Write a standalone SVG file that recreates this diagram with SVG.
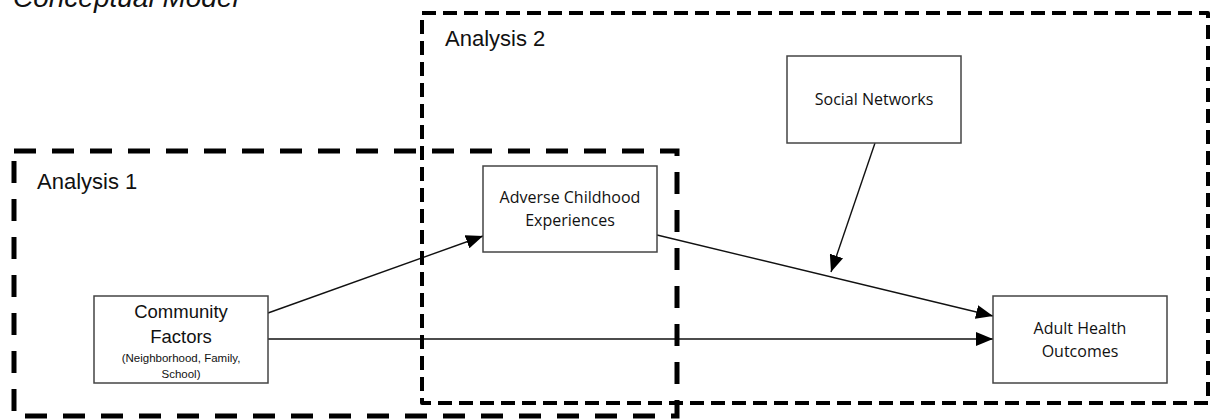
<svg xmlns="http://www.w3.org/2000/svg" width="1215" height="420" viewBox="0 0 1215 420">
<style>
.box{fill:#fff;stroke:#444;stroke-width:1.5}
.lbl{font-family:"Liberation Sans",Arial,sans-serif;fill:#111}
.cal{font-family:"Open Sans",sans-serif;fill:#111;text-anchor:middle}
.edge{stroke:#111;stroke-width:1.4;fill:none;marker-end:url(#ah)}
.f1{fill:none;stroke:#000;stroke-width:5;stroke-dasharray:22 16}
.f2{fill:none;stroke:#000;stroke-width:4;stroke-dasharray:14 7;stroke-linejoin:round}
</style>
<defs>
<marker id="ah" viewBox="0 0 10 10" refX="10" refY="5" markerWidth="17" markerHeight="14" markerUnits="userSpaceOnUse" orient="auto" preserveAspectRatio="none">
<path d="M0,0 L10,5 L0,10 z" fill="#000"/>
</marker>
</defs>
<rect width="1215" height="420" fill="#fff"/>
<text class="lbl" x="13" y="7" font-size="28" font-style="italic">Conceptual Model</text>

<g id="connectors">
<line class="edge" x1="268" y1="313" x2="483" y2="236"/>
<line class="edge" x1="268" y1="339" x2="993" y2="339"/>
<line class="edge" x1="657" y1="235" x2="993" y2="316"/>
<line class="edge" x1="875" y1="143" x2="831" y2="272"/>
</g>

<g id="community">
<rect class="box" x="94" y="296" width="174" height="87"/>
<text class="lbl" x="181" y="318" font-size="18.5" text-anchor="middle">Community</text>
<text class="lbl" x="181" y="343" font-size="18.5" text-anchor="middle">Factors</text>
<text class="lbl" x="181" y="362" font-size="11.5" text-anchor="middle">(Neighborhood, Family,</text>
<text class="lbl" x="181" y="378" font-size="11.5" text-anchor="middle">School)</text>
</g>

<g id="ace">
<rect class="box" x="483" y="166" width="174" height="86"/>
<text class="cal" x="570" y="203" font-size="16">Adverse Childhood</text>
<text class="cal" x="570" y="226" font-size="16">Experiences</text>
</g>

<g id="social">
<rect class="box" x="787" y="56" width="174" height="87"/>
<text class="cal" x="874" y="105" font-size="16">Social Networks</text>
</g>

<g id="adult">
<rect class="box" x="993" y="296" width="174" height="87"/>
<text class="cal" x="1080" y="334" font-size="16">Adult Health</text>
<text class="cal" x="1080" y="357" font-size="16">Outcomes</text>
</g>

<g id="analysis1">
<rect class="f1" x="14" y="151" width="663" height="265"/>
<text class="lbl" x="37" y="189" font-size="22">Analysis 1</text>
</g>

<g id="analysis2">
<rect class="f2" x="422" y="13" width="786" height="390"/>
<text class="lbl" x="445" y="46" font-size="22">Analysis 2</text>
</g>
</svg>
